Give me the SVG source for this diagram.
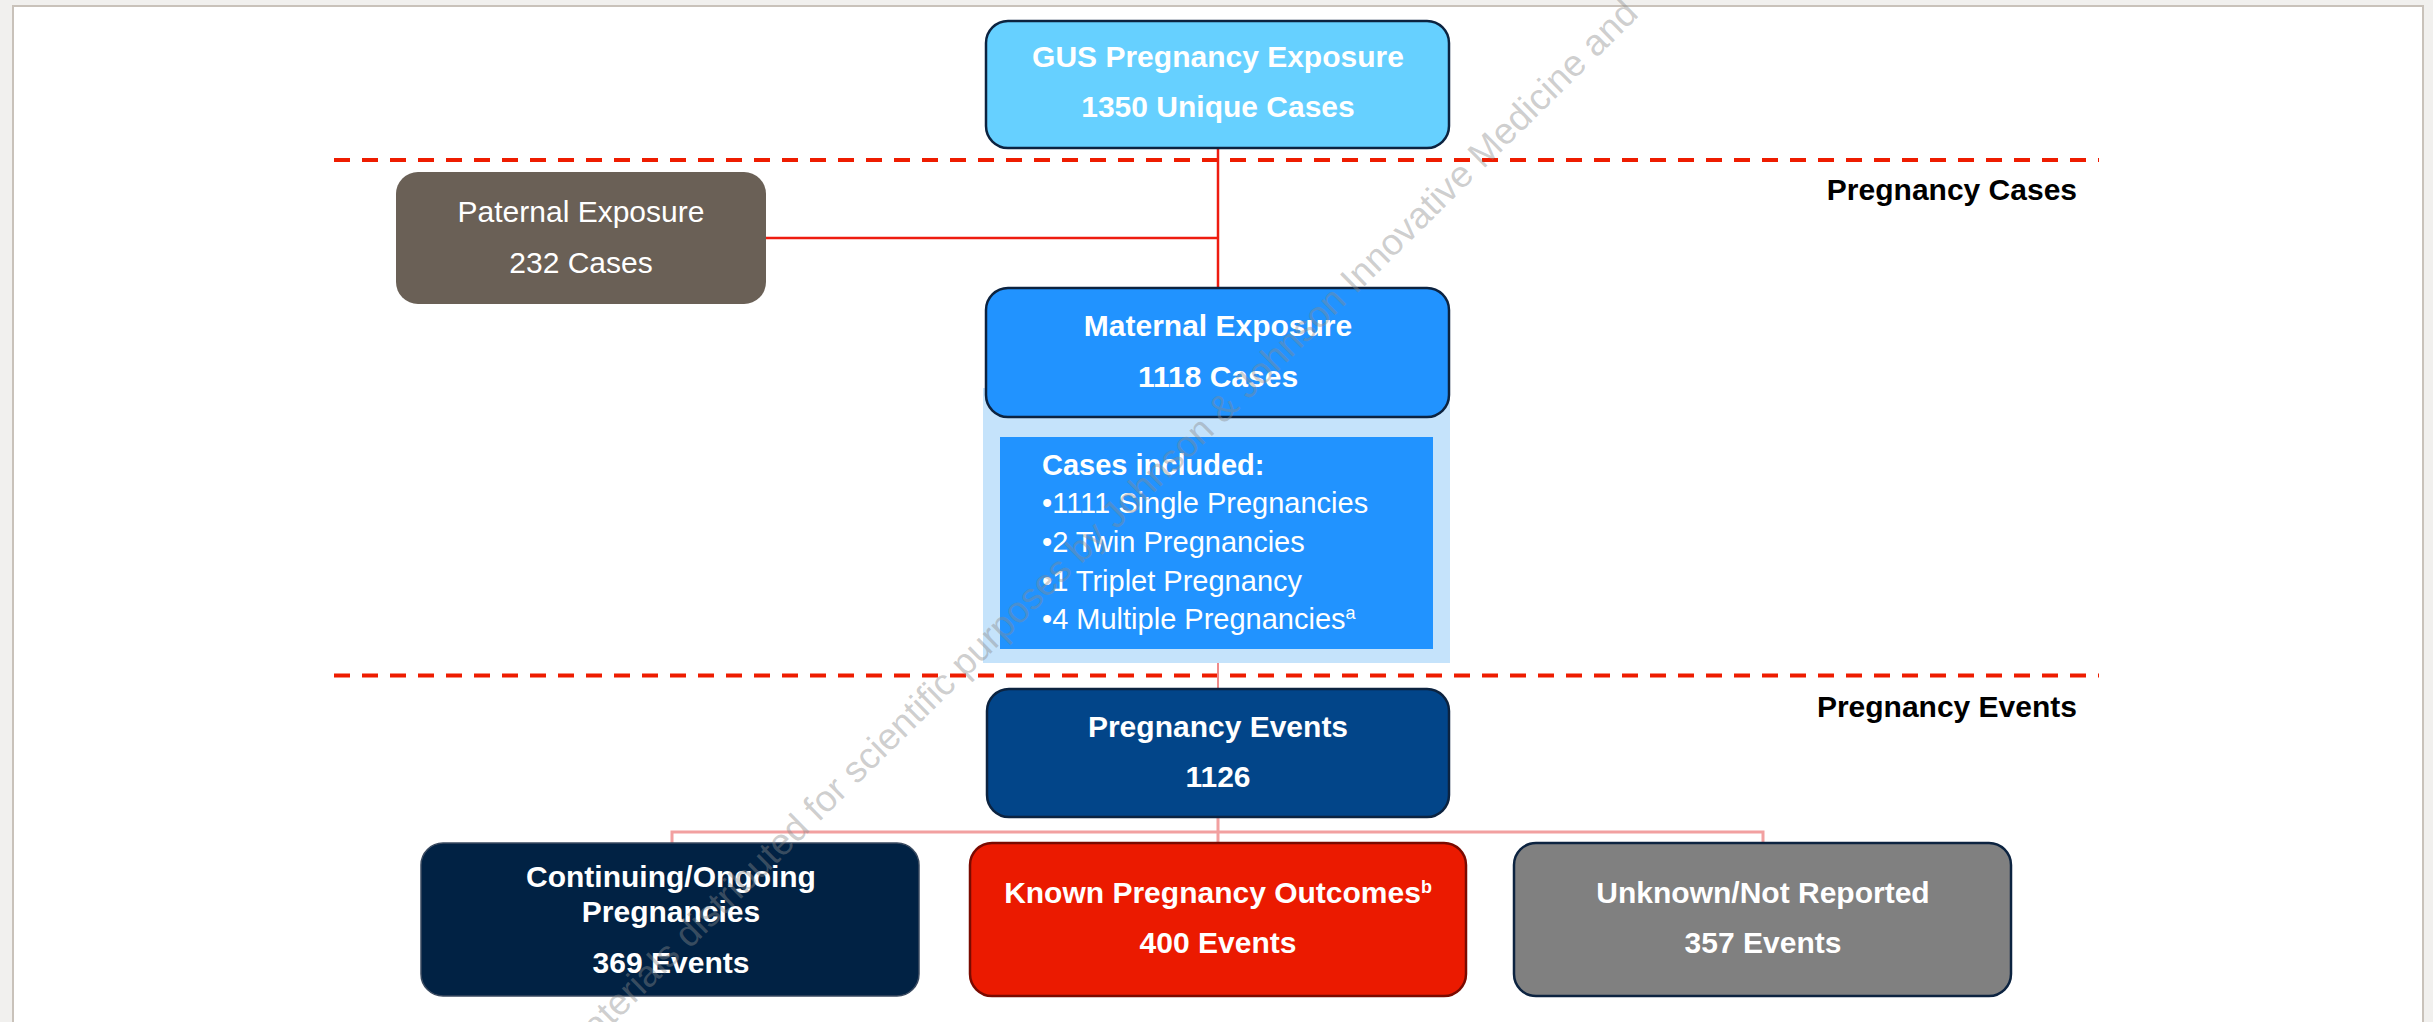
<svg xmlns="http://www.w3.org/2000/svg" width="2433" height="1022" viewBox="0 0 2433 1022">
<style>
.t{font-family:"Liberation Sans",Arial,sans-serif;fill:#fff;font-size:30px;text-anchor:middle}
.b{font-weight:700}
.lst{font-family:"Liberation Sans",Arial,sans-serif;fill:#fff;font-size:29px}
.lbl{font-family:"Liberation Sans",Arial,sans-serif;fill:#000;font-size:30px;font-weight:700;text-anchor:end}
.div{stroke:#ee1c00;stroke-width:4;stroke-dasharray:16 12;fill:none}
.c1{stroke:#ee1c10;stroke-width:2.5;fill:none}
.c2{stroke:#f08a8a;stroke-width:2;fill:none}
.c3{stroke:#f2a0a0;stroke-width:3;fill:none}
.wm{font-family:"Liberation Sans",Arial,sans-serif;font-size:37px;fill:#8a8a8a;fill-opacity:0.42}
</style>
<rect x="0" y="0" width="2433" height="1022" fill="#f1f0ee"/>
<rect x="13" y="6" width="2410" height="1030" fill="#fff" stroke="#c9c2ba" stroke-width="2"/>
<g id="dividers">
<line class="div" x1="334" y1="160" x2="2099" y2="160"/>
<line class="div" x1="334" y1="675.5" x2="2099" y2="675.5"/>
</g>
<g id="connectors">
<path class="c1" d="M1218 148 V288"/>
<path class="c1" d="M766 238 H1218"/>
<path class="c2" d="M1218 417 V437"/>
<path class="c2" d="M1218 649 V689"/>
<path class="c3" d="M1218 817 V832 M672 843 V832 H1763 V843 M1218 832 V843"/>
</g>
<g id="gus">
<rect x="986" y="21" width="463" height="127" rx="22" fill="#66d0ff" stroke="#0c2340" stroke-width="2.5"/>
<text class="t b" x="1218" y="67">GUS Pregnancy Exposure</text>
<text class="t b" x="1218" y="117">1350 Unique Cases</text>
</g>
<g id="paternal">
<rect x="396" y="172" width="370" height="132" rx="22" fill="#6a6056"/>
<text class="t" x="581" y="222">Paternal Exposure</text>
<text class="t" x="581" y="273">232 Cases</text>
</g>
<g id="maternal-details">
<rect x="983" y="388" width="467" height="275" fill="#c5e3fb"/>
<rect x="1000" y="437" width="433" height="212" fill="#2193ff"/>
<text class="lst b" x="1042" y="475">Cases included:</text>
<text class="lst" x="1042" y="513">•1111 Single Pregnancies</text>
<text class="lst" x="1042" y="552">•2 Twin Pregnancies</text>
<text class="lst" x="1042" y="591">•1 Triplet Pregnancy</text>
<text class="lst" x="1042" y="629">•4 Multiple Pregnancies<tspan font-size="18" dy="-10">a</tspan></text>
</g>
<g id="maternal">
<rect x="986" y="288" width="463" height="129" rx="22" fill="#2193ff" stroke="#0c2340" stroke-width="2.5"/>
<text class="t b" x="1218" y="336">Maternal Exposure</text>
<text class="t b" x="1218" y="387">1118 Cases</text>
</g>
<g id="events">
<rect x="987" y="689" width="462" height="128" rx="22" fill="#024589" stroke="#0c2340" stroke-width="2.5"/>
<text class="t b" x="1218" y="737">Pregnancy Events</text>
<text class="t b" x="1218" y="787">1126</text>
</g>
<g id="continuing">
<rect x="421" y="843" width="498" height="153" rx="22" fill="#012244" stroke="#3a4a60" stroke-width="1.5"/>
<text class="t b" x="671" y="887">Continuing/Ongoing</text>
<text class="t b" x="671" y="922">Pregnancies</text>
<text class="t b" x="671" y="973">369 Events</text>
</g>
<g id="known">
<rect x="970" y="843" width="496" height="153" rx="22" fill="#eb1a00" stroke="#7a0a00" stroke-width="2.5"/>
<text class="t b" x="1218" y="903">Known Pregnancy Outcomes<tspan font-size="18" dy="-10">b</tspan></text>
<text class="t b" x="1218" y="953">400 Events</text>
</g>
<g id="unknown">
<rect x="1514" y="843" width="497" height="153" rx="22" fill="#808080" stroke="#0c2340" stroke-width="2.5"/>
<text class="t b" x="1763" y="903">Unknown/Not Reported</text>
<text class="t b" x="1763" y="953">357 Events</text>
</g>
<g id="labels">
<text class="lbl" x="2077" y="200">Pregnancy Cases</text>
<text class="lbl" x="2077" y="717">Pregnancy Events</text>
</g>
<g id="watermark">
<text class="wm" transform="translate(575 1062) rotate(-44.5)">Materials distributed for scientific purposes by Johnson &amp; Johnson Innovative Medicine and</text>
</g>
</svg>
